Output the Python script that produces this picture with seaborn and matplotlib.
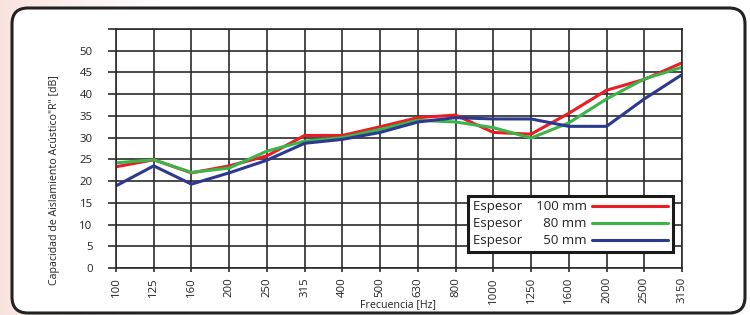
import numpy as np
import pandas as pd
import matplotlib
matplotlib.use("Agg")
import matplotlib.pyplot as plt
import seaborn as sns
from matplotlib.patches import FancyBboxPatch

# ---- data ----
freqs = ["100", "125", "160", "200", "250", "315", "400", "500", "630", "800",
         "1000", "1250", "1600", "2000", "2500", "3150"]
r_100mm = [23.3, 24.9, 21.9, 23.5, 25.8, 30.5, 30.5, 32.5, 34.6, 35.2,
           31.2, 30.8, 35.6, 40.9, 43.4, 47.2]
r_80mm = [24.2, 24.9, 22.0, 23.0, 26.9, 29.2, 30.0, 31.9, 34.0, 33.6,
          32.3, 29.9, 33.4, 38.9, 43.5, 46.2]
r_50mm = [18.9, 23.5, 19.3, 21.9, 24.8, 28.7, 29.6, 31.2, 33.6, 34.6,
          34.3, 34.3, 32.6, 32.6, 38.9, 44.5]
series_labels = ["Espesor    100 mm", "Espesor      80 mm", "Espesor      50 mm"]
series_colors = ["#ec1c24", "#39b54a", "#2b3990"]
y_ticks = [0, 5, 10, 15, 20, 25, 30, 35, 40, 45, 50, 55]
y_ticklabels = ["0", "5", "10", "15", "20", "25", "30", "35", "40", "45", "50", ""]

df = pd.concat([
    pd.DataFrame({"pos": np.arange(len(freqs)), "R": vals, "serie": lab})
    for vals, lab in zip([r_100mm, r_80mm, r_50mm], series_labels)
], ignore_index=True)

sns.set_theme(style="white")
plt.rcParams["font.family"] = ["Open Sans", "DejaVu Sans"]

W, H = 750, 315
fig = plt.figure(figsize=(W / 100, H / 100), dpi=100)
fig.patch.set_facecolor("white")

# faint pink background on the left
bg = fig.add_axes([0, 0, 1, 1], zorder=-10)
t = np.clip(1 - np.linspace(0, 1, 750) / 0.25, 0, 1) ** 1.3
pink = np.array([0.975, 0.89, 0.875])
img = np.ones((10, 750, 3)) * (1 - t[None, :, None]) + pink[None, None, :] * t[None, :, None]
bg.imshow(img, aspect="auto", extent=[0, 1, 0, 1])
bg.set_xlim(0, 1)
bg.set_ylim(0, 1)
bg.axis("off")

# rounded frame
box = FancyBboxPatch((0.12, 0.02), 7.33, 3.05,
                     boxstyle="round,pad=0,rounding_size=0.16",
                     transform=fig.dpi_scale_trans, facecolor="white",
                     edgecolor="#222222", linewidth=2.2, zorder=-5)
fig.patches.append(box)

ax = fig.add_axes([116 / W, 1 - 268 / H, (682 - 116) / W, (268 - 29) / H])
ax.set_facecolor("white")

sns.lineplot(data=df, x="pos", y="R", hue="serie", palette=series_colors,
             hue_order=series_labels, linewidth=2.2, legend=False, sort=False, ax=ax)

grid_c = "#2b2b2b"
ax.set_xlim(0, len(freqs) - 1)
ax.set_ylim(0, 55)
ax.set_xticks(np.arange(len(freqs)))
ax.set_xticklabels(freqs, rotation=90, fontsize=8.2)
ax.set_yticks(y_ticks)
ax.set_yticklabels(y_ticklabels, fontsize=8.2)
ax.set_xlabel("")
ax.set_ylabel("")
ax.set_axisbelow(True)
ax.grid(True, color=grid_c, linewidth=1.2)
for s in ax.spines.values():
    s.set_color(grid_c)
    s.set_linewidth(1.2)
ax.tick_params(axis="y", left=True, length=5.8, width=1.2, color=grid_c,
               direction="out", pad=11, labelcolor="#222222")
ax.tick_params(axis="x", bottom=True, length=3, width=1.2, color=grid_c,
               direction="out", pad=3.5, labelcolor="#222222")

handles = ax.get_lines()[:3]
leg = ax.legend(handles, series_labels, loc="lower right",
                bbox_to_anchor=(0.984, 0.067), borderaxespad=0,
                frameon=True, fancybox=False, framealpha=1,
                edgecolor="#1a1a1a", fontsize=9.5, markerfirst=False,
                handlelength=5.8, handletextpad=0.4, labelspacing=0.3,
                borderpad=0.35)
leg.get_frame().set_linewidth(2.2)
for txt in leg.get_texts():
    txt.set_color("#222222")

fig.text(398 / W, 1 - 305 / H, "Frecuencia [Hz]", ha="center", va="center",
         fontsize=7.7, color="#222222")
fig.text(55 / W, 1 - 180 / H, "Capacidad de Aislamiento Acústico\"R\" [dB]",
         ha="center", va="center", rotation=90, fontsize=7.7, color="#222222")

fig.savefig("out.png", dpi=100, facecolor=fig.get_facecolor())
